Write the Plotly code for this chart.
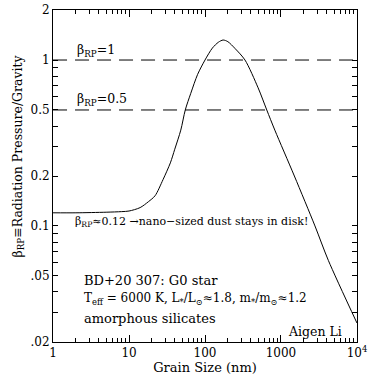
import plotly.graph_objects as go
import numpy as np

# Grain size (nm) and beta_RP values
grain_size_nm = [1, 2, 5, 8, 10, 14, 18, 22, 28, 35, 40, 48, 55, 65, 80, 100, 125,
                 150, 173, 200, 250, 336, 500, 650, 830, 1500, 2800, 4200, 10000]
beta_rp = [0.12, 0.12, 0.121, 0.122, 0.123, 0.129, 0.14, 0.152, 0.19, 0.24, 0.29,
           0.378, 0.5, 0.63, 0.82, 1.0, 1.18, 1.28, 1.32, 1.29, 1.17, 1.0, 0.68,
           0.5, 0.378, 0.2, 0.1, 0.062, 0.026]

ref_levels = [1.0, 0.5]
x_span = [1, 10000]

x_tickvals = [1, 10, 100, 1000, 10000]
x_ticktext = ["1", "10", "100", "1000", "10<sup>4</sup>"]
x_minor = [m * d for d in [1, 10, 100, 1000] for m in range(2, 10)]

y_tickvals = [0.02, 0.03, 0.04, 0.05, 0.06, 0.07, 0.08, 0.09,
              0.1, 0.2, 0.3, 0.4, 0.5, 0.6, 0.7, 0.8, 0.9, 1, 2]
y_ticktext = [".02", "", "", ".05", "", "", "", "",
              "0.1", "0.2", "", "", "0.5", "", "", "", "", "1", "2"]

FONT = "DejaVu Serif"

fig = go.Figure()
for lv in ref_levels:
    fig.add_trace(go.Scatter(x=x_span, y=[lv, lv], mode="lines",
                             line=dict(color="black", width=1, dash="14px,8px"),
                             hoverinfo="skip", showlegend=False))
fig.add_trace(go.Scatter(x=grain_size_nm, y=beta_rp, mode="lines",
                         line=dict(color="black", width=1, shape="spline", smoothing=0.8),
                         showlegend=False))

def f(sz):
    return dict(family=FONT, size=sz, color="black")

anns = [
    dict(x=0.285, y=np.log10(1.0), text="β<sub>RP</sub>=1", yshift=10, font=f(12.5)),
    dict(x=0.285, y=np.log10(0.5), text="β<sub>RP</sub>=0.5", yshift=10, font=f(12.5)),
    dict(x=0.26, y=np.log10(0.1), text="β<sub>RP</sub>≈0.12 →nano−sized dust stays in disk!",
         yshift=4, font=f(11)),
]
for a in anns:
    fig.add_annotation(xref="x", yref="y", xanchor="left", yanchor="middle",
                       showarrow=False, **a)

def px(xp, yp):
    return (xp - 53) / 304, (342 - yp) / 332

for txt, xp, yp, sz, anchor in [
    ("BD+20 307: G0 star", 82, 280, 13, "left"),
    ("T<sub>eff</sub> = 6000 K, L<sub>*</sub>/L<sub>⊙</sub>≈1.8, m<sub>*</sub>/m<sub>⊙</sub>≈1.2", 82, 299, 12, "left"),
    ("amorphous silicates", 82, 318, 13, "left"),
    ("Aigen Li", 344, 331, 12.5, "right"),
]:
    xx, yy = px(xp, yp)
    fig.add_annotation(xref="paper", yref="paper", x=xx, y=yy, text=txt, showarrow=False,
                       xanchor=anchor, yanchor="middle", font=f(sz))

xx, yy = px(7, 156)
fig.add_annotation(xref="paper", yref="paper", x=xx, y=yy,
                   text="β<sub>RP</sub>≡Radiation Pressure/Gravity", textangle=-90,
                   showarrow=False, xanchor="left", yanchor="middle", font=f(12.5))

fig.update_xaxes(type="log", range=[-0.0005, 4.0005], automargin=False,
                 tickmode="array", tickvals=x_tickvals, ticktext=x_ticktext,
                 ticks="inside", ticklen=7, tickcolor="black", tickwidth=1,
                 minor=dict(tickmode="array", tickvals=x_minor, ticks="inside",
                            ticklen=4, tickcolor="black", tickwidth=1, showgrid=False),
                 showline=True, linecolor="black", linewidth=1, mirror="ticks",
                 showgrid=False, zeroline=False, tickfont=f(12),
                 title=dict(text="Grain Size (nm)", font=f(13), standoff=2))
fig.update_yaxes(type="log", range=[np.log10(0.02) - 0.0005, np.log10(2) + 0.0005],
                 automargin=False,
                 tickmode="array", tickvals=y_tickvals, ticktext=y_ticktext,
                 ticks="inside", ticklen=5, tickcolor="black", tickwidth=1,
                 showline=True, linecolor="black", linewidth=1, mirror="ticks",
                 showgrid=False, zeroline=False, tickfont=f(12))

fig.update_layout(width=383, height=383, plot_bgcolor="white", paper_bgcolor="white",
                  margin=dict(l=53, r=26, t=10, b=41), showlegend=False)

# remove the default 8px page margin so the figure sits at the window origin
fig.write_html("out.html", config={"displayModeBar": False},
               post_script="document.body.style.margin='0';document.body.style.overflow='hidden';")
